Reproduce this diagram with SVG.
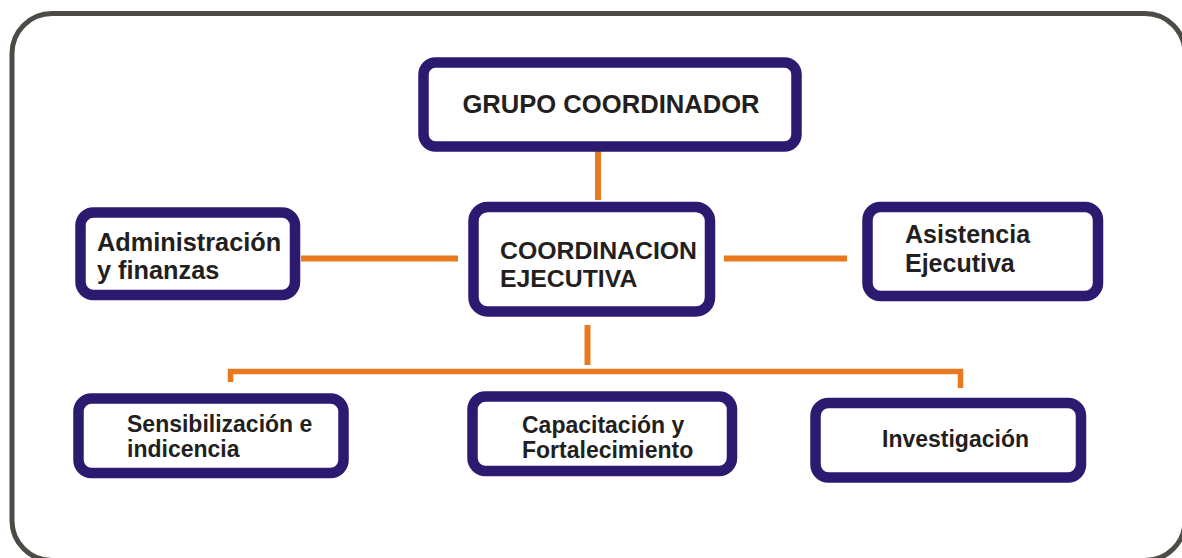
<svg xmlns="http://www.w3.org/2000/svg" width="1182" height="558" viewBox="0 0 1182 558">
<style>
.frame{fill:none;stroke:#4e4b47;stroke-width:5}
.box{fill:#ffffff;stroke:#2b1a70;stroke-width:10.5}
.conn{fill:none;stroke:#e8791e;stroke-width:6;stroke-linecap:butt;stroke-linejoin:miter}
.t{font-family:"Liberation Sans",Arial,sans-serif;font-weight:bold;fill:#231f20}
</style>
<rect width="1182" height="558" fill="#ffffff"/>
<rect class="frame" x="12" y="13.5" width="1173" height="547" rx="40" ry="40"/>
<g id="connectors">
<path class="conn" d="M598,151 V200"/>
<path class="conn" d="M301,258.5 H458"/>
<path class="conn" d="M724,258.5 H847"/>
<path class="conn" d="M587.5,325 V365"/>
<path class="conn" style="stroke-width:5.5" d="M230.5,382 V371.5 H960.5 V388"/>
</g>
<g id="grupo-coordinador">
<rect class="box" x="423.5" y="62.5" width="373" height="84" rx="12"/>
<text class="t" x="611" y="113" font-size="25.6" text-anchor="middle">GRUPO COORDINADOR</text>
</g>
<g id="coordinacion-ejecutiva">
<rect class="box" x="473.5" y="207" width="236.5" height="104.5" rx="14"/>
<text class="t" font-size="24.8"><tspan x="500" y="259">COORDINACION</tspan><tspan x="500" y="287">EJECUTIVA</tspan></text>
</g>
<g id="administracion">
<rect class="box" x="80.5" y="212.5" width="214.5" height="82.5" rx="13"/>
<text class="t" font-size="25.3"><tspan x="97" y="251">Administración</tspan><tspan x="97" y="279">y finanzas</tspan></text>
</g>
<g id="asistencia">
<rect class="box" x="867.5" y="207" width="230.5" height="89" rx="13"/>
<text class="t" font-size="25"><tspan x="905" y="243">Asistencia</tspan><tspan x="905" y="272">Ejecutiva</tspan></text>
</g>
<g id="sensibilizacion">
<rect class="box" x="78.5" y="398.5" width="265" height="74.5" rx="13"/>
<text class="t" font-size="23"><tspan x="127" y="432">Sensibilización e</tspan><tspan x="127" y="457">indicencia</tspan></text>
</g>
<g id="capacitacion">
<rect class="box" x="472.5" y="396.5" width="259.5" height="74.5" rx="13"/>
<text class="t" font-size="23"><tspan x="522" y="433">Capacitación y</tspan><tspan x="522" y="458">Fortalecimiento</tspan></text>
</g>
<g id="investigacion">
<rect class="box" x="815.5" y="403" width="265.5" height="74.5" rx="13"/>
<text class="t" x="882" y="447" font-size="23">Investigación</text>
</g>
</svg>
